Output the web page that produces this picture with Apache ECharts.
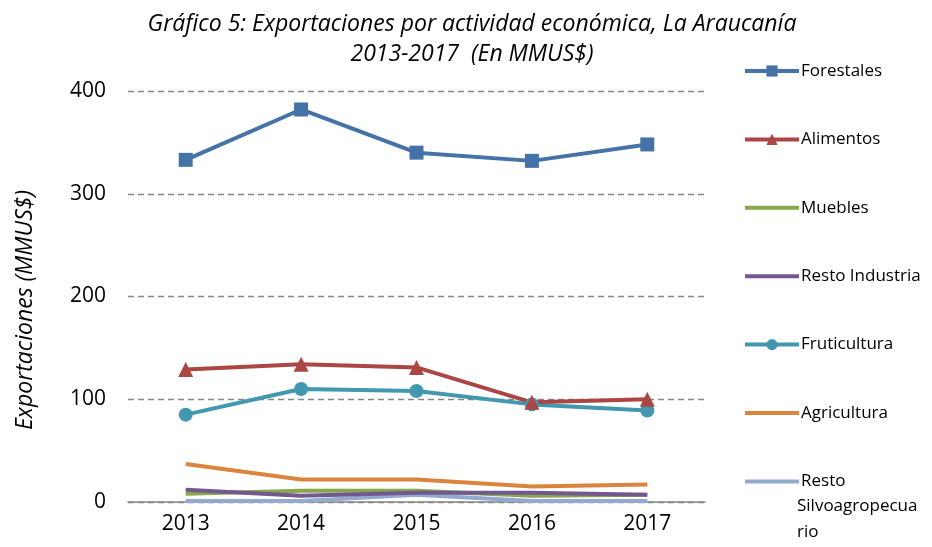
<!DOCTYPE html>
<html>
<head>
<meta charset="utf-8">
<script src="https://cdn.jsdelivr.net/npm/echarts@6/dist/echarts.min.js"></script>
<style>
  html, body { margin: 0; padding: 0; background: #fff; }
  #chart { width: 932px; height: 547px; }
</style>
</head>
<body>
<div id="chart"></div>
<script>
const anys = ['2013', '2014', '2015', '2016', '2017'];
const forestales = [333, 382, 340, 332, 348];
const alimentos = [129, 134, 131, 97, 100];
const muebles = [8, 11, 11, 6, 7];
const restoIndustria = [12, 6, 9, 9, 7];
const fruticultura = [85, 110, 108, 95, 89];
const agricultura = [37, 22, 22, 15, 17];
const restoSilvo = [1, 1, 7, 1, 1];
const ticksY = [0, 100, 200, 300, 400];

const FONT = '"Open Sans", sans-serif';

function serie(nom, dades, color, simbol) {
  return {
    name: nom,
    type: 'line',
    data: dades,
    symbol: simbol || 'none',
    symbolSize: simbol === 'triangle' ? 15 : 14,
    lineStyle: { width: 4, color },
    itemStyle: { color },
    emphasis: { disabled: true },
    z: 3
  };
}

function itemLlegenda(nom, ambSimbol) {
  return ambSimbol ? { name: nom } : { name: nom, itemStyle: { opacity: 0 } };
}

const chart = echarts.init(document.getElementById('chart'), undefined, { renderer: 'canvas' });

chart.setOption({
  animation: false,
  backgroundColor: '#fff',
  title: {
    text: 'Gráfico 5: Exportaciones por actividad económica, La Araucanía\n2013-2017  (En MMUS$)',
    left: 467,
    top: 4,
    textAlign: 'center',
    textStyle: { fontFamily: FONT, fontStyle: 'italic', fontWeight: 'normal', fontSize: 23, color: '#000', lineHeight: 30 }
  },
  grid: { left: 128, right: 227, top: 91, bottom: 45 },
  legend: {
    orient: 'vertical',
    left: 738,
    top: 55,
    itemWidth: 54,
    itemHeight: 14,
    itemGap: 46.4,
    lineStyle: { width: 4 },
    textStyle: { fontFamily: FONT, fontSize: 17, color: '#000', padding: [0, 0, 0, -3], lineHeight: 22 },
    formatter: (nom) => nom === 'Resto Silvoagropecuario' ? 'Resto' : nom,
    data: [
      itemLlegenda('Forestales', true),
      itemLlegenda('Alimentos', true),
      itemLlegenda('Muebles', false),
      itemLlegenda('Resto Industria', false),
      itemLlegenda('Fruticultura', true),
      itemLlegenda('Agricultura', false),
      itemLlegenda('Resto Silvoagropecuario', false)
    ]
  },
  graphic: [
    {
      type: 'text',
      left: 797,
      top: 493,
      style: { text: 'Silvoagropecua\nrio', font: '17px ' + FONT, fill: '#000', lineHeight: 26 }
    },
    {
      type: 'text',
      x: 25,
      y: 310,
      rotation: Math.PI / 2,
      style: {
        text: 'Exportaciones (MMUS$)',
        font: 'italic 23px ' + FONT,
        fill: '#000',
        align: 'center',
        verticalAlign: 'middle'
      }
    }
  ],
  xAxis: {
    type: 'category',
    data: anys,
    boundaryGap: true,
    axisLine: { lineStyle: { color: '#868686', width: 1.5 } },
    axisTick: { show: false },
    axisLabel: { fontFamily: FONT, fontSize: 21, color: '#000', margin: 12 },
    splitLine: { show: false }
  },
  yAxis: {
    type: 'value',
    min: ticksY[0],
    max: ticksY[ticksY.length - 1],
    interval: 100,
    axisLine: { show: false },
    axisTick: { show: false },
    axisLabel: { fontFamily: FONT, fontSize: 21, color: '#000', margin: 22 },
    splitLine: { lineStyle: { color: '#868686', type: [6, 4], width: 1.3 } }
  },
  series: [
    serie('Resto Silvoagropecuario', restoSilvo, '#93A9CF'),
    serie('Muebles', muebles, '#89A54E'),
    serie('Resto Industria', restoIndustria, '#71588F'),
    serie('Agricultura', agricultura, '#DB843D'),
    serie('Fruticultura', fruticultura, '#4198AF', 'circle'),
    serie('Alimentos', alimentos, '#AA4643', 'triangle'),
    serie('Forestales', forestales, '#4572A7', 'rect')
  ]
});

window.addEventListener('resize', () => chart.resize());
</script>
</body>
</html>
